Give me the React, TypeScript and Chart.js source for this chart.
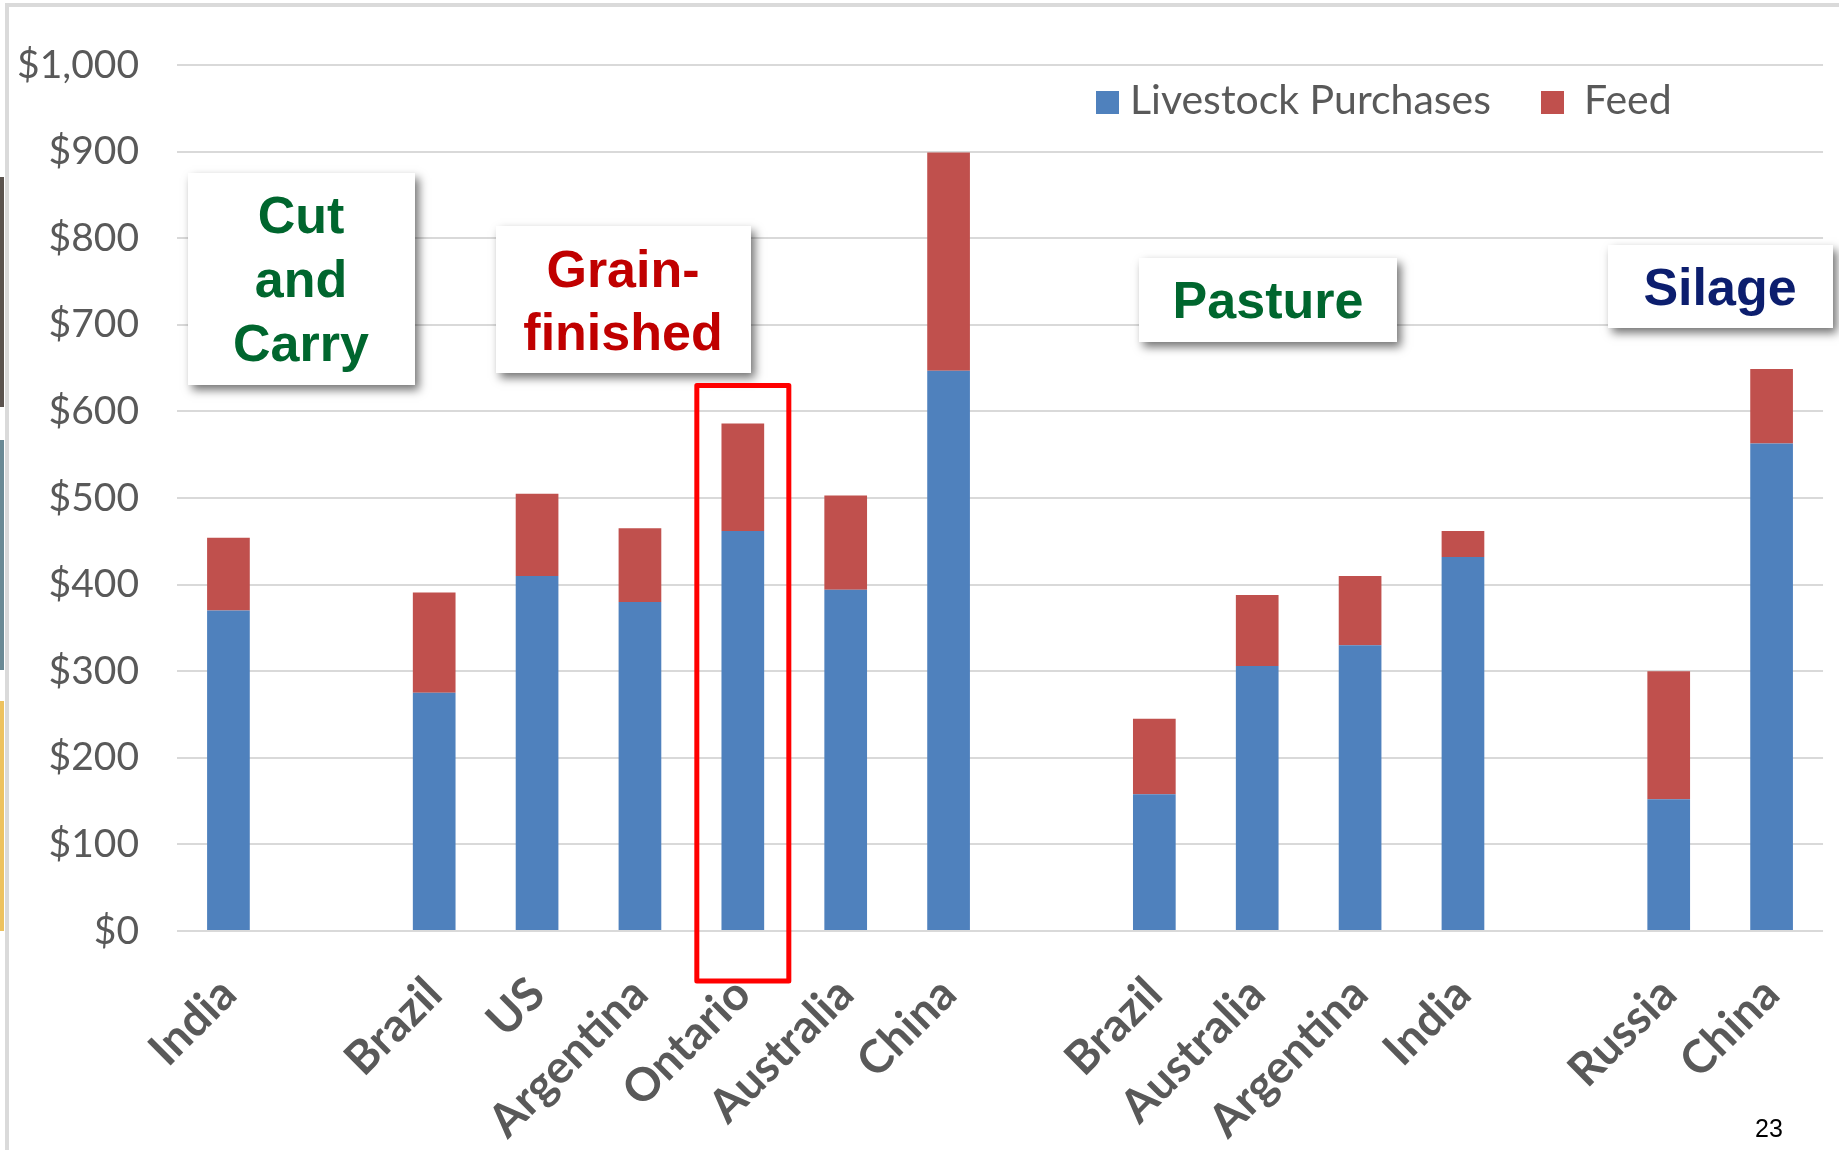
import React, { useEffect, useRef } from "react";
import { Chart, registerables } from "chart.js";

Chart.register(...registerables);

// ---------------- data ----------------
const categories = [
  "India", "", "Brazil", "US", "Argentina", "Ontario", "Australia", "China",
  "", "Brazil", "Australia", "Argentina", "India", "", "Russia", "China",
];
const livestockPurchases = [370, null, 275, 410, 380, 462, 394, 647, null, 158, 306, 330, 432, null, 152, 563];
const feed = [84, null, 116, 95, 85, 124, 109, 252, null, 87, 82, 80, 30, null, 148, 86];
const seriesNames = ["Livestock Purchases", "Feed"];
const yMin = 0;
const yMax = 1000;
const yStep = 100;
const highlightIndex = 5; // Ontario
const highlightTopValue = 630;
const groupTexts = [["Cut", "and", "Carry"], ["Grain-", "finished"], ["Pasture"], ["Silage"]];
const pageNumber = "23";

// ---------------- styles / layout ----------------
const seriesColors = ["#4F81BD", "#C0504D"];
const groupColors = ["#00662E", "#C00000", "#00662E", "#0C1E6E"];
const groupBoxes = [
  { l: 188, t: 173, r: 415, b: 385, cx: 301, base: [233, 297, 361] },
  { l: 496, t: 226, r: 751, b: 373, cx: 623, base: [287, 350] },
  { l: 1139, t: 258, r: 1397, b: 342, cx: 1268, base: [318] },
  { l: 1608, t: 245, r: 1833, b: 328, cx: 1720, base: [305] },
];

const overlayPlugin = {
  id: "overlay",
  beforeDraw(chart: any) {
    const ctx = chart.ctx;
    ctx.save();
    ctx.fillStyle = "#ffffff";
    ctx.fillRect(0, 0, chart.width, chart.height);
    // slide frame
    ctx.fillStyle = "#dadada";
    ctx.fillRect(5, 3, chart.width - 5, 4);
    ctx.fillRect(5, 3, 4, chart.height);
    // slide edge strips
    ctx.fillStyle = "#5b534e";
    ctx.fillRect(0, 177, 4, 230);
    ctx.fillStyle = "#6a8a95";
    ctx.fillRect(0, 440, 4, 230);
    ctx.fillStyle = "#edc25f";
    ctx.fillRect(0, 701, 4, 230);
    ctx.restore();
  },
  afterDraw(chart: any) {
    const ctx = chart.ctx;
    const xs = chart.scales.x;
    const ys = chart.scales.y;
    ctx.save();

    // legend
    const legendItems = [
      { sq: 1096, tx: 1130 },
      { sq: 1541, tx: 1584 },
    ];
    ctx.font = "41px Lato";
    ctx.textBaseline = "alphabetic";
    ctx.textAlign = "left";
    legendItems.forEach((it, i) => {
      ctx.fillStyle = seriesColors[i];
      ctx.fillRect(it.sq, 91, 23, 23);
      ctx.fillStyle = "#595959";
      ctx.fillText(seriesNames[i], it.tx, 114);
    });

    // group label boxes
    groupBoxes.forEach((bx, i) => {
      ctx.save();
      ctx.shadowColor = "rgba(0,0,0,0.55)";
      ctx.shadowBlur = 9;
      ctx.shadowOffsetX = 4;
      ctx.shadowOffsetY = 5;
      ctx.fillStyle = "#ffffff";
      ctx.fillRect(bx.l, bx.t, bx.r - bx.l, bx.b - bx.t);
      ctx.restore();
      ctx.fillStyle = groupColors[i];
      ctx.font = "bold 52px 'Liberation Sans', Arial, sans-serif";
      ctx.textAlign = "center";
      groupTexts[i].forEach((line, j) => {
        ctx.fillText(line, bx.cx, bx.base[j]);
      });
    });

    // highlight rectangle around Ontario
    const cx = xs.getPixelForValue(highlightIndex);
    const top = ys.getPixelForValue(highlightTopValue);
    const bottom = ys.getPixelForValue(0) + 50;
    ctx.strokeStyle = "#FF0000";
    ctx.lineWidth = 5;
    ctx.lineJoin = "round";
    ctx.strokeRect(cx - 46, top, 92, bottom - top);

    // page number
    ctx.fillStyle = "#000000";
    ctx.font = "25px 'Liberation Sans', Arial, sans-serif";
    ctx.textAlign = "left";
    ctx.fillText(pageNumber, 1755, 1137);
    ctx.restore();
  },
};

export default function App() {
  const canvasRef = useRef<HTMLCanvasElement | null>(null);

  useEffect(() => {
    document.body.style.margin = "0";
    document.body.style.overflow = "hidden";
    let chart: Chart | null = null;
    let cancelled = false;
    const make = () => {
      if (cancelled || !canvasRef.current) return;
      chart = new Chart(canvasRef.current, {
        type: "bar",
        data: {
          labels: categories,
          datasets: [
            {
              label: seriesNames[0],
              data: livestockPurchases,
              backgroundColor: seriesColors[0],
              barPercentage: 0.415,
              categoryPercentage: 1,
            },
            {
              label: seriesNames[1],
              data: feed,
              backgroundColor: seriesColors[1],
              barPercentage: 0.415,
              categoryPercentage: 1,
            },
          ],
        },
        options: {
          animation: false,
          responsive: true,
          maintainAspectRatio: false,
          layout: { padding: { left: 0, right: 12, top: 65, bottom: 0 } },
          plugins: { legend: { display: false }, tooltip: { enabled: false } },
          scales: {
            x: {
              stacked: true,
              grid: { display: false },
              border: { display: false },
              ticks: {
                autoSkip: false,
                maxRotation: 45,
                minRotation: 45,
                padding: 28,
                color: "#595959",
                font: { family: "Lato", size: 46, weight: "bold" },
              },
              afterFit: (s: any) => {
                s.height = 219;
              },
            },
            y: {
              stacked: true,
              min: yMin,
              max: yMax,
              grid: { color: "#d9d9d9", lineWidth: 2, drawTicks: false },
              border: { display: false },
              ticks: {
                stepSize: yStep,
                padding: 38,
                color: "#595959",
                font: { family: "Lato", size: 39 },
                callback: (v: any) => "$" + Number(v).toLocaleString("en-US"),
              },
              afterFit: (s: any) => {
                s.width = 177;
              },
            },
          },
        },
        plugins: [overlayPlugin],
      } as any);
    };
    const loads = [
      "39px Lato",
      "41px Lato",
      "bold 46px Lato",
      "bold 52px 'Liberation Sans'",
      "25px 'Liberation Sans'",
    ].map((f) => (document as any).fonts.load(f).catch(() => null));
    Promise.all(loads).then(make, make);
    return () => {
      cancelled = true;
      if (chart) chart.destroy();
    };
  }, []);

  return (
    <div style={{ position: "relative", width: 1839, height: 1150 }}>
      <canvas ref={canvasRef} />
    </div>
  );
}
